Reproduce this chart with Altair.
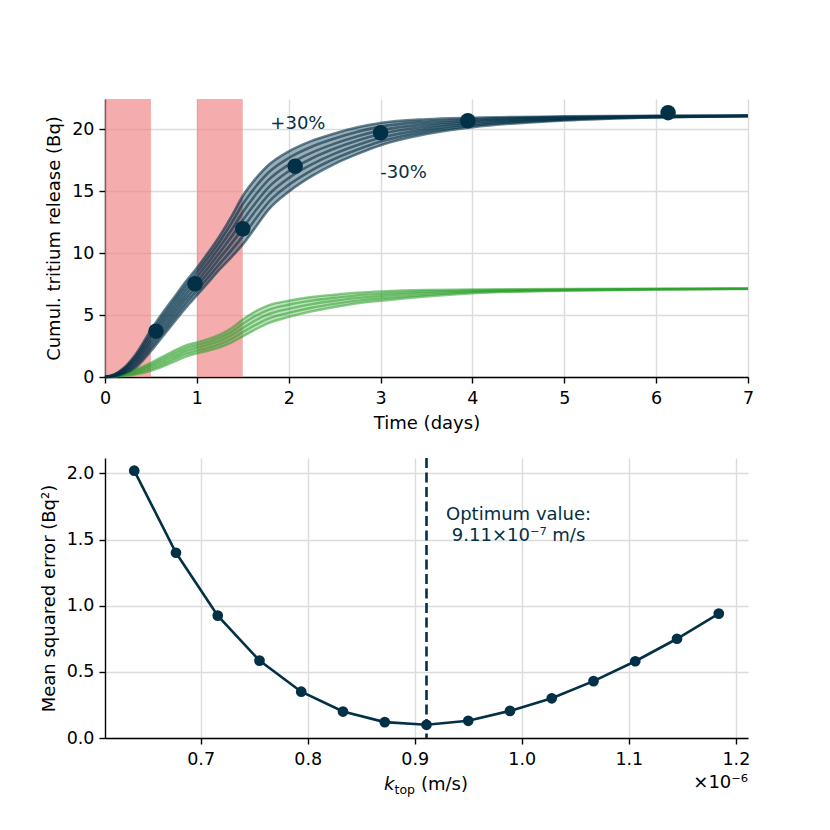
import altair as alt
import pandas as pd

# ---------------- data ----------------
t = [0, 0.1, 0.2, 0.33, 0.5, 0.63, 0.76, 0.88, 1.0, 1.12, 1.25, 1.38, 1.5,
     1.64, 1.78, 2.0, 2.25, 2.5, 2.75, 3.0, 3.5, 4.0, 5.0, 6.0, 7.0]

dark_m30 = [0, 0.05, 0.25, 0.75, 2.1, 3.3, 4.5, 5.6, 6.6, 7.6, 8.7, 9.7, 10.7, 12.1, 13.5, 14.95, 16.2, 17.2, 18.0, 18.7, 19.6, 20.15, 20.7, 20.95, 21.05]
dark_m20 = [0, 0.08, 0.33, 0.93, 2.38, 3.62, 4.83, 5.95, 6.97, 8.0, 9.15, 10.25, 11.35, 12.77, 14.1, 15.5, 16.68, 17.61, 18.36, 19.0, 19.8, 20.28, 20.76, 20.97, 21.06]
dark_m10 = [0, 0.1, 0.4, 1.1, 2.67, 3.93, 5.17, 6.3, 7.33, 8.4, 9.6, 10.8, 12.0, 13.43, 14.7, 16.05, 17.15, 18.02, 18.72, 19.3, 20.0, 20.41, 20.81, 20.99, 21.06]
dark_0 = [0, 0.13, 0.48, 1.28, 2.95, 4.25, 5.5, 6.65, 7.7, 8.8, 10.05, 11.35, 12.65, 14.05, 15.3, 16.6, 17.63, 18.43, 19.08, 19.6, 20.2, 20.54, 20.87, 21.01, 21.07]
dark_p10 = [0, 0.15, 0.55, 1.45, 3.23, 4.57, 5.83, 7.0, 8.07, 9.2, 10.5, 11.9, 13.3, 14.7, 15.9, 17.13, 18.1, 18.83, 19.43, 19.9, 20.4, 20.66, 20.92, 21.03, 21.07]
dark_p20 = [0, 0.18, 0.63, 1.63, 3.52, 4.88, 6.17, 7.35, 8.43, 9.6, 10.95, 12.45, 13.95, 15.35, 16.5, 17.67, 18.58, 19.24, 19.79, 20.2, 20.6, 20.79, 20.98, 21.05, 21.08]
dark_p30 = [0, 0.2, 0.7, 1.8, 3.8, 5.2, 6.5, 7.7, 8.8, 10.0, 11.4, 13.0, 14.6, 16.0, 17.1, 18.2, 19.05, 19.65, 20.15, 20.5, 20.8, 20.92, 21.03, 21.07, 21.08]

green_m30 = [0, 0.02, 0.07, 0.2, 0.5, 0.85, 1.25, 1.65, 1.91, 2.12, 2.4, 2.8, 3.28, 3.85, 4.35, 4.85, 5.3, 5.65, 5.95, 6.15, 6.5, 6.75, 6.96, 7.05, 7.1]
green_m15 = [0, 0.035, 0.12, 0.3, 0.66, 1.05, 1.48, 1.88, 2.13, 2.35, 2.66, 3.09, 3.62, 4.21, 4.71, 5.18, 5.59, 5.9, 6.16, 6.34, 6.63, 6.83, 7.0, 7.07, 7.11]
green_0 = [0, 0.05, 0.17, 0.4, 0.83, 1.25, 1.7, 2.1, 2.36, 2.59, 2.91, 3.38, 3.96, 4.58, 5.07, 5.5, 5.88, 6.15, 6.38, 6.53, 6.77, 6.91, 7.03, 7.09, 7.12]
green_p15 = [0, 0.065, 0.22, 0.5, 0.99, 1.45, 1.93, 2.33, 2.58, 2.82, 3.17, 3.66, 4.3, 4.94, 5.42, 5.83, 6.16, 6.39, 6.59, 6.72, 6.9, 6.98, 7.07, 7.1, 7.12]
green_p30 = [0, 0.08, 0.27, 0.6, 1.15, 1.65, 2.15, 2.55, 2.8, 3.05, 3.42, 3.95, 4.64, 5.3, 5.78, 6.15, 6.45, 6.64, 6.8, 6.91, 7.03, 7.06, 7.1, 7.12, 7.13]

exp_t = [0.555, 0.98, 1.50, 2.07, 3.0, 3.95, 6.13]
exp_v = [3.7, 7.52, 11.96, 17.0, 19.7, 20.67, 21.33]

expo_start = [0, 1]
expo_end = [0.5, 1.5]

lab_text = ["+30%", "-30%"]
lab_t = [2.10, 3.25]
lab_v = [20.43, 16.48]

k_vals = [0.638, 0.677, 0.716, 0.755, 0.794, 0.833, 0.872, 0.911, 0.950,
          0.989, 1.028, 1.067, 1.106, 1.145, 1.184]
mse_vals = [2.02, 1.40, 0.925, 0.585, 0.35, 0.20, 0.12, 0.10, 0.13, 0.205,
            0.30, 0.43, 0.58, 0.75, 0.94]
k_opt = 0.911
ann_lines = ["Optimum value:", "9.11×10⁻⁷ m/s"]
ann_x = [0.997, 0.997]
ann_y = [1.685, 1.525]

# ---------------- frames ----------------
dark_curves = {"-30%": dark_m30, "-20%": dark_m20, "-10%": dark_m10, "0%": dark_0,
               "+10%": dark_p10, "+20%": dark_p20, "+30%": dark_p30}
green_curves = {"-30%": green_m30, "-15%": green_m15, "0%": green_0,
                "+15%": green_p15, "+30%": green_p30}

dark_long = pd.DataFrame([{"t": tt, "v": vv, "c": name}
                          for name, vals in dark_curves.items() for tt, vv in zip(t, vals)])
green_long = pd.DataFrame([{"t": tt, "v": vv, "c": name}
                           for name, vals in green_curves.items() for tt, vv in zip(t, vals)])
dark_band = pd.DataFrame({"t": t, "v": dark_m30, "v2": dark_p30})
green_band = pd.DataFrame({"t": t, "v": green_m30, "v2": green_p30})
pts = pd.DataFrame({"t": exp_t, "v": exp_v})
expo = pd.DataFrame({"t": expo_start, "t2": expo_end})
labs = pd.DataFrame({"t": lab_t, "v": lab_v, "txt": lab_text})

mse_df = pd.DataFrame({"k": k_vals, "m": mse_vals})
opt_df = pd.DataFrame({"k": [k_opt]})
ann_df = pd.DataFrame({"k": ann_x, "m": ann_y, "txt": ann_lines})

NAVY = "#023047"
GREEN = "#2ca02c"
FONT = "DejaVu Sans"
FS = 18
W, H1, H2 = 643, 278, 280

# ---------------- top panel ----------------
def X1(field="t"):
    return alt.X(f"{field}:Q", scale=alt.Scale(domain=[0, 7], nice=False),
                 axis=alt.Axis(values=list(range(8)), format="d", title="Time (days)"))

def Y1(field="v"):
    return alt.Y(f"{field}:Q", scale=alt.Scale(domain=[0, 22.43], nice=False),
                 axis=alt.Axis(values=[0, 5, 10, 15, 20], format="d",
                               title="Cumul. tritium release (Bq)"))

rects = alt.Chart(expo).mark_rect(color="#F08080", opacity=0.65).encode(
    x=X1("t"), x2="t2", y=alt.value(0), y2=alt.value(H1))

dband = alt.Chart(dark_band).mark_area(color=NAVY, opacity=0.4, interpolate="monotone").encode(
    x=X1(), y=Y1(), y2="v2")
gband = alt.Chart(green_band).mark_area(color=GREEN, opacity=0.3, interpolate="monotone").encode(
    x=X1(), y=Y1(), y2="v2")

dlines = alt.Chart(dark_long).mark_line(color=NAVY, opacity=0.6, strokeWidth=2.6,
                                        interpolate="monotone").encode(
    x=X1(), y=Y1(), detail="c:N")
glines = alt.Chart(green_long).mark_line(color=GREEN, opacity=0.55, strokeWidth=2.4,
                                         interpolate="monotone").encode(
    x=X1(), y=Y1(), detail="c:N")

points = alt.Chart(pts).mark_circle(color=NAVY, opacity=1, size=240).encode(x=X1(), y=Y1())

texts = alt.Chart(labs).mark_text(font=FONT, fontSize=FS, color=NAVY,
                                  align="center", baseline="middle").encode(
    x=X1(), y=Y1(), text="txt:N")

top = alt.layer(rects, gband, glines, dband, dlines, points, texts).properties(width=W, height=H1)

# ---------------- bottom panel ----------------
def X2(field="k"):
    return alt.X(f"{field}:Q", scale=alt.Scale(domain=[0.6107, 1.2113], nice=False, zero=False),
                 axis=alt.Axis(values=[0.7, 0.8, 0.9, 1.0, 1.1, 1.2], format=".1f", title=None))

def Y2(field="m"):
    return alt.Y(f"{field}:Q", scale=alt.Scale(domain=[0, 2.116], nice=False),
                 axis=alt.Axis(values=[0, 0.5, 1.0, 1.5, 2.0], format=".1f",
                               title="Mean squared error (Bq²)"))

mline = alt.Chart(mse_df).mark_line(color=NAVY, strokeWidth=2.6).encode(x=X2(), y=Y2())
mpts = alt.Chart(mse_df).mark_circle(color=NAVY, opacity=1, size=115).encode(x=X2(), y=Y2())
vrule = alt.Chart(opt_df).mark_rule(color=NAVY, strokeWidth=2.6, strokeDash=[10, 4.5]).encode(
    x=X2(), y=alt.value(0), y2=alt.value(H2))
ann = alt.Chart(ann_df).mark_text(font=FONT, fontSize=FS, color=NAVY,
                                  align="center", baseline="middle").encode(
    x=X2(), y=Y2(), text="txt:N")

ktxt = alt.Chart(pd.DataFrame({"a": [0]})).mark_text(
    text="k", font=FONT, fontSize=FS, fontStyle="italic", align="left",
    baseline="alphabetic", color="black").encode(x=alt.value(279), y=alt.value(H2 + 52))
toptxt = alt.Chart(pd.DataFrame({"a": [0]})).mark_text(
    text="top", font=FONT, fontSize=12.5, align="left",
    baseline="alphabetic", color="black").encode(x=alt.value(289.5), y=alt.value(H2 + 56))
unit = alt.Chart(pd.DataFrame({"a": [0]})).mark_text(
    text="(m/s)", font=FONT, fontSize=FS, align="left",
    baseline="alphabetic", color="black").encode(x=alt.value(316), y=alt.value(H2 + 52))
offs = alt.Chart(pd.DataFrame({"a": [0]})).mark_text(
    text="×10⁻⁶", font=FONT, fontSize=FS, align="right",
    baseline="alphabetic", color="black").encode(x=alt.value(W), y=alt.value(H2 + 50))

bottom = alt.layer(mline, vrule, mpts, ann, ktxt, toptxt, unit, offs).properties(width=W, height=H2)

chart = alt.vconcat(top, bottom, spacing=23).properties(
    padding={"left": 32, "top": 91, "right": 10, "bottom": 10}
).configure_view(stroke=None).configure_axis(
    domainColor="black", domainWidth=1.4, tickColor="black", tickWidth=1.4, tickSize=6,
    labelFont=FONT, labelFontSize=17.5, labelColor="black",
    titleFont=FONT, titleFontSize=FS, titleFontWeight="normal", titleColor="black",
    gridColor="#dcdcdc", gridWidth=1.4
).configure_axisX(labelPadding=6, titlePadding=8, labelFlush=False
).configure_axisY(labelPadding=5, titlePadding=8)

chart.save("out.html", embed_options={"renderer": "svg", "actions": False})
